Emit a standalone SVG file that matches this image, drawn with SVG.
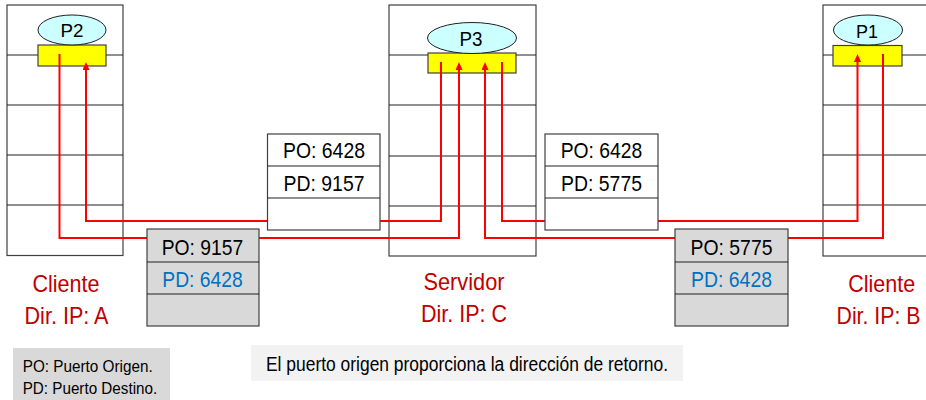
<svg xmlns="http://www.w3.org/2000/svg" width="926" height="400" viewBox="0 0 926 400">
  <style>
    .host { fill: #ffffff; stroke: #404040; stroke-width: 1.2; }
    .div { stroke: #202020; stroke-width: 1.2; }
    .proc { fill: #ccffff; stroke: #202020; stroke-width: 1; }
    .sock { fill: #ffff00; stroke: #404040; stroke-width: 1.2; }
    .seg { fill: #ffffff; stroke: #404040; stroke-width: 1.2; }
    .segg { fill: #d9d9d9; stroke: #404040; stroke-width: 1.2; }
    .t { font-family: "Liberation Sans", Arial, sans-serif; fill: #000000; }
    .bt { font-size: 22px; text-anchor: middle; }
    .pt { font-size: 19px; text-anchor: middle; }
    .lbl { font-size: 24px; text-anchor: middle; fill: #c00000; }
    .blue { fill: #0070c0; }
    .conn { fill: none; stroke: #ff0000; stroke-width: 2; }
  </style>
  <defs>
    <marker id="arr" viewBox="0 0 8 7" refX="0" refY="3.5" markerWidth="8" markerHeight="7" markerUnits="userSpaceOnUse" orient="auto">
      <path d="M0,0 L8,3.5 L0,7 z" fill="#ff0000"/>
    </marker>
  </defs>
  <rect width="926" height="400" fill="#ffffff"/>

  <g id="hostA">
    <rect class="host" x="7" y="5" width="116" height="250.5"/>
    <line class="div" x1="7" y1="55" x2="123" y2="55"/>
    <line class="div" x1="7" y1="105" x2="123" y2="105"/>
    <line class="div" x1="7" y1="155" x2="123" y2="155"/>
    <line class="div" x1="7" y1="205" x2="123" y2="205"/>
    <rect class="sock" x="38" y="45" width="68" height="21"/>
    <ellipse class="proc" cx="72" cy="30" rx="34" ry="15"/>
    <text class="t pt" x="72" y="37" textLength="23" lengthAdjust="spacingAndGlyphs">P2</text>
  </g>

  <g id="server">
    <rect class="host" x="389" y="5" width="147" height="251"/>
    <line class="div" x1="389" y1="55" x2="536" y2="55"/>
    <line class="div" x1="389" y1="105" x2="536" y2="105"/>
    <line class="div" x1="389" y1="156" x2="536" y2="156"/>
    <line class="div" x1="389" y1="206" x2="536" y2="206"/>
    <rect class="sock" x="428" y="53" width="88" height="20"/>
    <ellipse class="proc" cx="472" cy="38" rx="44.5" ry="15.5"/>
    <text class="t pt" x="471" y="45.5" style="font-size:20px" textLength="23" lengthAdjust="spacingAndGlyphs">P3</text>
  </g>

  <g id="hostB">
    <rect class="host" x="823" y="5" width="130" height="251"/>
    <line class="div" x1="823" y1="55" x2="926" y2="55"/>
    <line class="div" x1="823" y1="105" x2="926" y2="105"/>
    <line class="div" x1="823" y1="155" x2="926" y2="155"/>
    <line class="div" x1="823" y1="205" x2="926" y2="205"/>
    <rect class="sock" x="833" y="45.5" width="69" height="20.5"/>
    <ellipse class="proc" cx="868" cy="30" rx="34.5" ry="15"/>
    <text class="t pt" x="867" y="38" textLength="22" lengthAdjust="spacingAndGlyphs">P1</text>
  </g>

  <g id="connectors">
    <path class="conn" d="M59.5,54 V238 H459 V70" marker-end="url(#arr)"/>
    <path class="conn" d="M441,62 V221 H86 V70" marker-end="url(#arr)"/>
    <path class="conn" d="M883,54 V238 H485 V70" marker-end="url(#arr)"/>
    <path class="conn" d="M502,62 V221 H857.5 V62" marker-end="url(#arr)"/>
  </g>

  <g id="seg1">
    <rect class="seg" x="267.5" y="134" width="112.5" height="96"/>
    <line class="div" x1="267.5" y1="166" x2="380" y2="166"/>
    <line class="div" x1="267.5" y1="198" x2="380" y2="198"/>
    <text class="t bt" x="324" y="158" textLength="82" lengthAdjust="spacingAndGlyphs">PO: 6428</text>
    <text class="t bt" x="324" y="190.5" textLength="81" lengthAdjust="spacingAndGlyphs">PD: 9157</text>
  </g>

  <g id="seg2">
    <rect class="seg" x="545" y="134" width="113" height="96"/>
    <line class="div" x1="545" y1="166" x2="658" y2="166"/>
    <line class="div" x1="545" y1="198" x2="658" y2="198"/>
    <text class="t bt" x="601.5" y="158" textLength="81.5" lengthAdjust="spacingAndGlyphs">PO: 6428</text>
    <text class="t bt" x="601.5" y="190.5" textLength="81" lengthAdjust="spacingAndGlyphs">PD: 5775</text>
  </g>

  <g id="seg3">
    <rect class="segg" x="147" y="229" width="112" height="97"/>
    <line class="div" x1="147" y1="262" x2="259" y2="262"/>
    <line class="div" x1="147" y1="294" x2="259" y2="294"/>
    <text class="t bt" x="202.5" y="255" textLength="81.5" lengthAdjust="spacingAndGlyphs">PO: 9157</text>
    <text class="t bt blue" x="202.5" y="287" textLength="80.5" lengthAdjust="spacingAndGlyphs">PD: 6428</text>
  </g>

  <g id="seg4">
    <rect class="segg" x="675" y="229" width="113" height="97"/>
    <line class="div" x1="675" y1="262" x2="788" y2="262"/>
    <line class="div" x1="675" y1="294" x2="788" y2="294"/>
    <text class="t bt" x="731.5" y="255" textLength="82" lengthAdjust="spacingAndGlyphs">PO: 5775</text>
    <text class="t bt blue" x="731.5" y="287" textLength="81" lengthAdjust="spacingAndGlyphs">PD: 6428</text>
  </g>

  <g id="labelA">
    <text class="t lbl" x="66" y="292" textLength="67" lengthAdjust="spacingAndGlyphs">Cliente</text>
    <text class="t lbl" x="66.5" y="324" textLength="84" lengthAdjust="spacingAndGlyphs">Dir. IP: A</text>
  </g>
  <g id="labelC">
    <text class="t lbl" x="464" y="290" textLength="81" lengthAdjust="spacingAndGlyphs">Servidor</text>
    <text class="t lbl" x="464" y="322" textLength="86" lengthAdjust="spacingAndGlyphs">Dir. IP: C</text>
  </g>
  <g id="labelB">
    <text class="t lbl" x="881.7" y="292" textLength="67" lengthAdjust="spacingAndGlyphs">Cliente</text>
    <text class="t lbl" x="878.5" y="324" textLength="84" lengthAdjust="spacingAndGlyphs">Dir. IP: B</text>
  </g>

  <g id="legend">
    <rect x="13" y="348" width="157" height="60" fill="#d9d9d9"/>
    <text class="t" x="22.7" y="372" style="font-size:16px" textLength="130" lengthAdjust="spacingAndGlyphs">PO: Puerto Origen.</text>
    <text class="t" x="22.7" y="393.5" style="font-size:16px" textLength="134.5" lengthAdjust="spacingAndGlyphs">PD: Puerto Destino.</text>
  </g>

  <g id="note">
    <rect x="251" y="345" width="432" height="36" fill="#f2f2f2"/>
    <text class="t" x="266" y="370.7" style="font-size:20px" textLength="402" lengthAdjust="spacingAndGlyphs">El puerto origen proporciona la dirección de retorno.</text>
  </g>
</svg>
